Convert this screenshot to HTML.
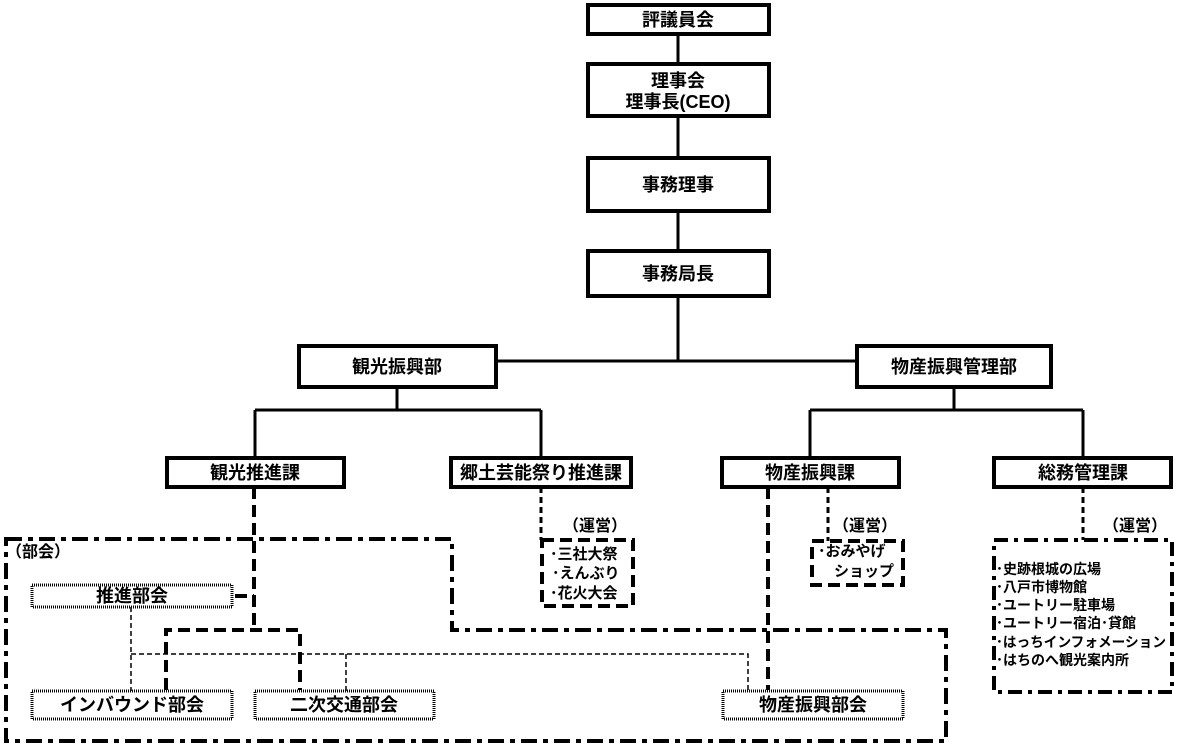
<!DOCTYPE html>
<html><head><meta charset="utf-8"><style>
html,body{margin:0;padding:0;background:#fff;}
svg{display:block;}
text{font-family:"Liberation Sans","Noto Sans CJK JP",sans-serif;font-weight:bold;fill:#000;}
</style></head><body>
<svg width="1178" height="746" viewBox="0 0 1178 746" xmlns="http://www.w3.org/2000/svg">
<g fill="none" stroke="#000" stroke-width="3">
<line x1="678" y1="34" x2="678" y2="361"/>
<line x1="497" y1="361" x2="856" y2="361"/>
<line x1="397" y1="387" x2="397" y2="410"/>
<line x1="255" y1="410" x2="541" y2="410"/>
<line x1="255" y1="410" x2="255" y2="457"/>
<line x1="541" y1="410" x2="541" y2="457"/>
<line x1="954" y1="387" x2="954" y2="410"/>
<line x1="810" y1="410" x2="1083" y2="410"/>
<line x1="810" y1="410" x2="810" y2="457"/>
<line x1="1083" y1="410" x2="1083" y2="457"/>
</g>
<g fill="#fff" stroke="#000" stroke-width="4">
<rect x="588" y="5" width="181" height="29"/>
<rect x="588" y="64" width="181" height="52"/>
<rect x="588" y="158" width="181" height="53"/>
<rect x="588" y="251" width="181" height="45"/>
<rect x="299" y="346" width="197" height="41"/>
<rect x="857" y="346" width="194" height="41"/>
<rect x="167" y="458" width="177" height="29"/>
<rect x="451" y="458" width="180" height="29"/>
<rect x="722" y="458" width="177" height="29"/>
<rect x="994" y="458" width="177" height="29"/>
</g>
<g fill="none" stroke="#000" stroke-width="4" stroke-dasharray="16,6,5,6">
<path d="M6 539 H452 V630 H946 V741 H6 Z"/>
</g>
<g fill="none" stroke="#000" stroke-width="4" stroke-dasharray="12,6">
<path d="M254 487 V630 M166 690 V630 H300 V690 M235 596 H254"/>
<path d="M768 487 V690"/>
<rect x="542" y="540" width="91" height="66"/>
<rect x="812" y="541" width="91" height="44"/>
</g>
<g fill="none" stroke="#000" stroke-width="3" stroke-dasharray="6,4">
<path d="M541 487 V540 M828 487 V541 M1083 487 V540"/>
</g>
<g fill="none" stroke="#000" stroke-width="4" stroke-dasharray="14,6,4,6">
<rect x="994" y="540" width="178" height="152"/>
</g>
<g fill="none" stroke="#000" stroke-width="1.5" stroke-dasharray="5,3">
<path d="M131 607 V691 M131 654 H748 V691 M346 654 V691"/>
</g>
<g fill="#fff" stroke="#000" stroke-width="3" stroke-dasharray="1,1">
<rect x="32" y="585" width="200" height="22"/>
<rect x="32" y="691" width="200" height="28"/>
<rect x="255" y="691" width="179" height="28"/>
<rect x="723" y="691" width="180" height="28"/>
</g>
<g font-size="18" text-anchor="middle">
<text x="678" y="26">評議員会</text>
<text x="678" y="87">理事会</text>
<text x="678" y="108">理事長(CEO)</text>
<text x="678" y="191">事務理事</text>
<text x="678" y="280">事務局長</text>
<text x="397" y="373">観光振興部</text>
<text x="954" y="373">物産振興管理部</text>
<text x="255" y="479">観光推進課</text>
<text x="541" y="479">郷土芸能祭り推進課</text>
<text x="810" y="479">物産振興課</text>
<text x="1083" y="479">総務管理課</text>
<text x="132" y="602">推進部会</text>
<text x="132" y="711">インバウンド部会</text>
<text x="344" y="711">二次交通部会</text>
<text x="813" y="711">物産振興部会</text>
</g>
<g font-size="16">
<text x="6" y="557">（部会）</text>
<text x="563" y="531">（運営）</text>
<text x="833" y="531">（運営）</text>
<text x="1103" y="531">（運営）</text>
</g>
<g font-size="15">
<text x="550" y="559">･三社大祭</text>
<text x="552" y="578">･えんぶり</text>
<text x="550" y="598">･花火大会</text>
<text x="818" y="556">･おみやげ</text>
<text x="834" y="576">ショップ</text>
</g>
<g font-size="14">
<text x="996" y="574">･史跡根城の広場</text>
<text x="996" y="592">･八戸市博物館</text>
<text x="996" y="610">･ユートリー駐車場</text>
<text x="996" y="628">･ユートリー宿泊･貸館</text>
<text x="996" y="647" textLength="170" lengthAdjust="spacingAndGlyphs">･はっちインフォメーション</text>
<text x="996" y="665">･はちのへ観光案内所</text>
</g>
</svg>
</body></html>
